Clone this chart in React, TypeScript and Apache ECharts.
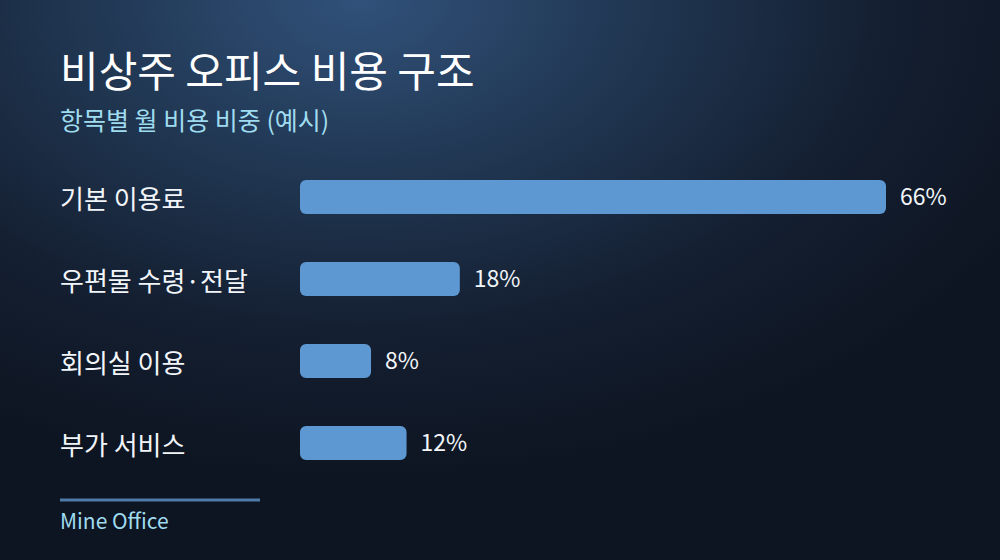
import React, { useRef, useEffect } from "react";
import * as echarts from "echarts";

const categories = ["기본 이용료", "우편물 수령·전달", "회의실 이용", "부가 서비스"];
const shares = [66, 18, 8, 12];

const titleText = "비상주 오피스 비용 구조";
const subtitleText = "항목별 월 비용 비중 (예시)";
const footerText = "Mine Office";

const FONT = "'Noto Sans CJK KR', 'Noto Sans', sans-serif";

const App = function () {
  const chart = useRef<HTMLDivElement>(null);

  useEffect(() => {
    if (!chart.current) return;
    document.body.style.margin = "0";
    const myChart = echarts.init(chart.current, undefined, { renderer: "svg" });
    const option = {
      animation: false,
      backgroundColor: "transparent",
      textStyle: { fontFamily: FONT },
      graphic: [
        {
          type: "text",
          left: 60,
          top: 47,
          style: {
            text: titleText,
            fill: "#ffffff",
            font: `400 42px ${FONT}`,
          },
        },
        {
          type: "text",
          left: 60,
          top: 106,
          style: {
            text: subtitleText,
            fill: "#9fdcef",
            font: `400 25px ${FONT}`,
          },
        },
        {
          type: "line",
          shape: { x1: 60, y1: 500, x2: 260, y2: 500 },
          style: { stroke: "#4f7ba8", lineWidth: 3 },
        },
        {
          type: "text",
          left: 60,
          top: 509,
          style: {
            text: footerText,
            fill: "#9fdcef",
            font: `400 21px ${FONT}`,
          },
        },
      ],
      grid: {
        left: 300,
        right: 114,
        top: 156,
        bottom: 76,
        containLabel: false,
      },
      xAxis: {
        type: "value",
        min: 0,
        max: 66,
        show: false,
      },
      yAxis: {
        type: "category",
        data: categories,
        inverse: true,
        axisLine: { show: false },
        axisTick: { show: false },
        splitLine: { show: false },
        axisLabel: {
          align: "left",
          margin: 240,
          color: "#f2f6fa",
          fontSize: 26,
          fontFamily: FONT,
          padding: [0, 0, 5, 0],
        },
      },
      series: [
        {
          type: "bar",
          data: shares,
          barWidth: 34,
          itemStyle: {
            color: "#5e98d2",
            borderRadius: 6,
          },
          label: {
            show: true,
            position: "right",
            distance: 14,
            offset: [0, -2],
            formatter: "{c}%",
            color: "#f2f6fa",
            fontSize: 23,
            fontFamily: FONT,
          },
        },
      ],
    };
    myChart.setOption(option);
    return () => {
      myChart.dispose();
    };
  }, []);

  return (
    <div
      style={{
        position: "absolute",
        left: 0,
        top: 0,
        width: 1000,
        height: 560,
        background:
          "radial-gradient(ellipse 75% 85% at 36% 0%, #31517a 0%, #213854 35%, #141f31 70%, #0e1522 100%)",
      }}
    >
      <div ref={chart} style={{ width: 1000, height: 560 }}></div>
    </div>
  );
};

export default App;
